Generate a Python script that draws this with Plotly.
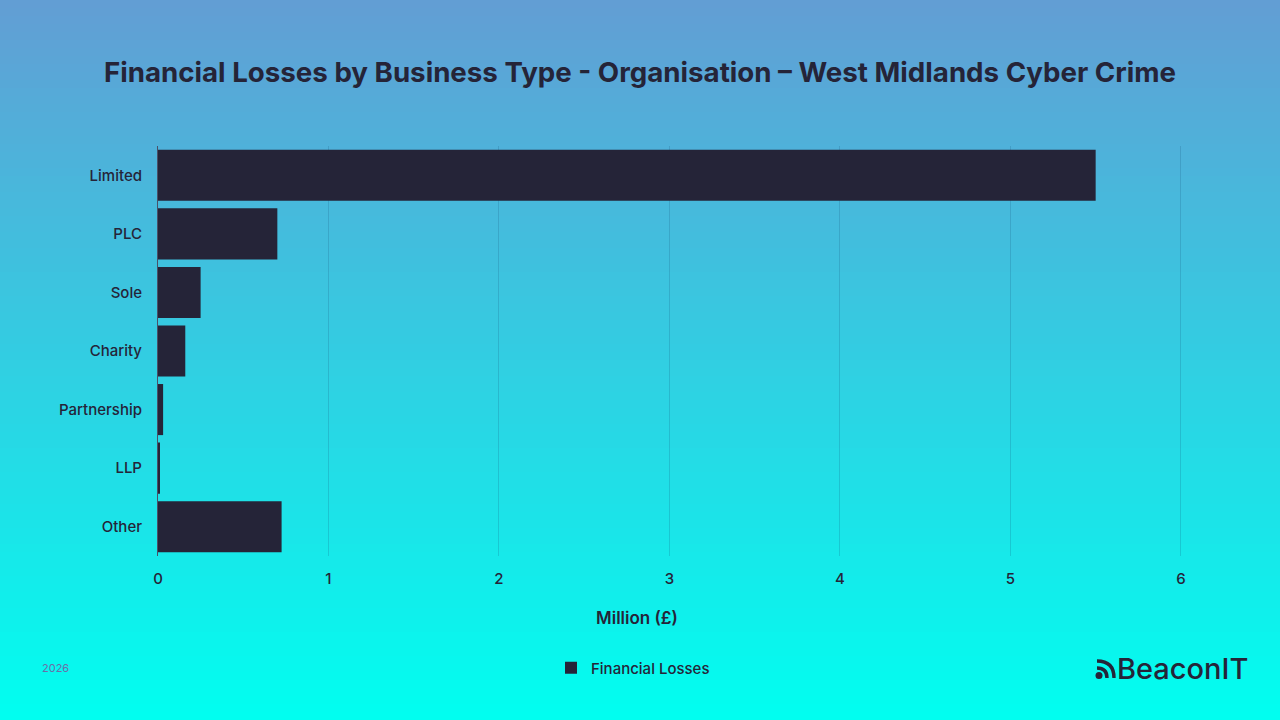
import plotly.graph_objects as go

# values (million GBP)
business_types = ['Limited', 'PLC', 'Sole', 'Charity', 'Partnership', 'LLP', 'Other']
losses_million = [5.50, 0.70, 0.25, 0.16, 0.03, 0.008, 0.725]
x_ticks = [0, 1, 2, 3, 4, 5, 6]

TITLE = 'Financial Losses by Business Type - Organisation \u2013 West Midlands Cyber Crime'
DARK = '#252438'
FONT = 'Inter'

W, H = 1280, 720
L, R, T, B = 158, 65, 146, 164
pw, ph = W - L - R, H - T - B


def px_x(x):
    return (x - L) / pw


def px_y(y):
    return (H - B - y) / ph


def lerp(c0, c1, t):
    return 'rgb(%d,%d,%d)' % tuple(round(a + (b - a) * t) for a, b in zip(c0, c1))


top_col = (99, 157, 212)
bot_col = (0, 255, 240)

# background gradient as thin strips
shapes = []
n = 90
for i in range(n):
    y0 = i * H / n
    y1 = (i + 1) * H / n + 1
    shapes.append(dict(type='rect', xref='paper', yref='paper',
                       x0=px_x(0), x1=px_x(W), y0=px_y(y1), y1=px_y(y0),
                       fillcolor=lerp(top_col, bot_col, (i + 0.5) / n),
                       line=dict(width=0), layer='below'))

fig = go.Figure()
fig.add_trace(go.Bar(
    x=losses_million,
    y=business_types,
    orientation='h',
    name='Financial Losses',
    marker=dict(color=DARK, line=dict(width=0)),
))

# logo icon (dot + two arcs)
shapes.append(dict(type='circle', xref='paper', yref='paper',
                   x0=px_x(1095.5), x1=px_x(1102.5), y0=px_y(679), y1=px_y(672),
                   fillcolor=DARK, line=dict(width=0)))
for r in (10, 17):
    cx, cy = 1097, 678
    shapes.append(dict(type='path', xref='paper', yref='paper',
                       path='M %f,%f Q %f,%f %f,%f' % (
                           px_x(cx), px_y(cy - r),
                           px_x(cx + r), px_y(cy - r),
                           px_x(cx + r), px_y(cy)),
                       line=dict(color=DARK, width=3.4)))

annotations = [
    dict(text='Million (\u00a3)', x=px_x(637), y=px_y(618), xref='paper', yref='paper',
         xanchor='center', yanchor='middle', showarrow=False,
         font=dict(family=FONT, size=17, color=DARK, weight=600)),
    dict(text='2026', x=px_x(40), y=px_y(668), xref='paper', yref='paper',
         xanchor='left', yanchor='middle', showarrow=False,
         font=dict(family=FONT, size=11, color='#6a6fa8')),
    dict(text='BeaconIT', x=px_x(1250), y=px_y(668), xref='paper', yref='paper',
         xanchor='right', yanchor='middle', showarrow=False,
         font=dict(family=FONT, size=29, color=DARK, weight=500)),
]

fig.update_layout(
    width=W, height=H,
    margin=dict(l=L, r=R, t=T, b=B),
    paper_bgcolor=lerp(top_col, bot_col, 0.5),
    plot_bgcolor='rgba(0,0,0,0)',
    font=dict(family=FONT, color=DARK),
    title=dict(text=TITLE, x=0.5, xanchor='center', y=1 - 72 / H, yanchor='middle',
               font=dict(family=FONT, size=27.7, color=DARK, weight=700)),
    bargap=0.128,
    showlegend=True,
    legend=dict(orientation='h', x=px_x(633), xanchor='center', y=px_y(668), yanchor='middle',
                font=dict(family=FONT, size=15, color=DARK, weight=500),
                itemwidth=30, bgcolor='rgba(0,0,0,0)'),
    shapes=shapes,
    annotations=annotations,
)

fig.update_xaxes(range=[0, 6.2], tickvals=x_ticks, showgrid=True,
                 gridcolor='rgba(20,80,120,0.2)', gridwidth=1, zeroline=False,
                 tickfont=dict(family=FONT, size=15, color=DARK, weight=500),
                 ticks='', ticklabelstandoff=12)
fig.update_yaxes(categoryorder='array', categoryarray=business_types, autorange='reversed',
                 showline=True, linecolor='#4a5068', linewidth=1, showgrid=False,
                 tickfont=dict(family=FONT, size=15, color=DARK, weight=500),
                 ticks='', ticklabelstandoff=12)

fig.write_html('out.html', config={'displayModeBar': False},
               post_script="document.body.style.margin='0';")
